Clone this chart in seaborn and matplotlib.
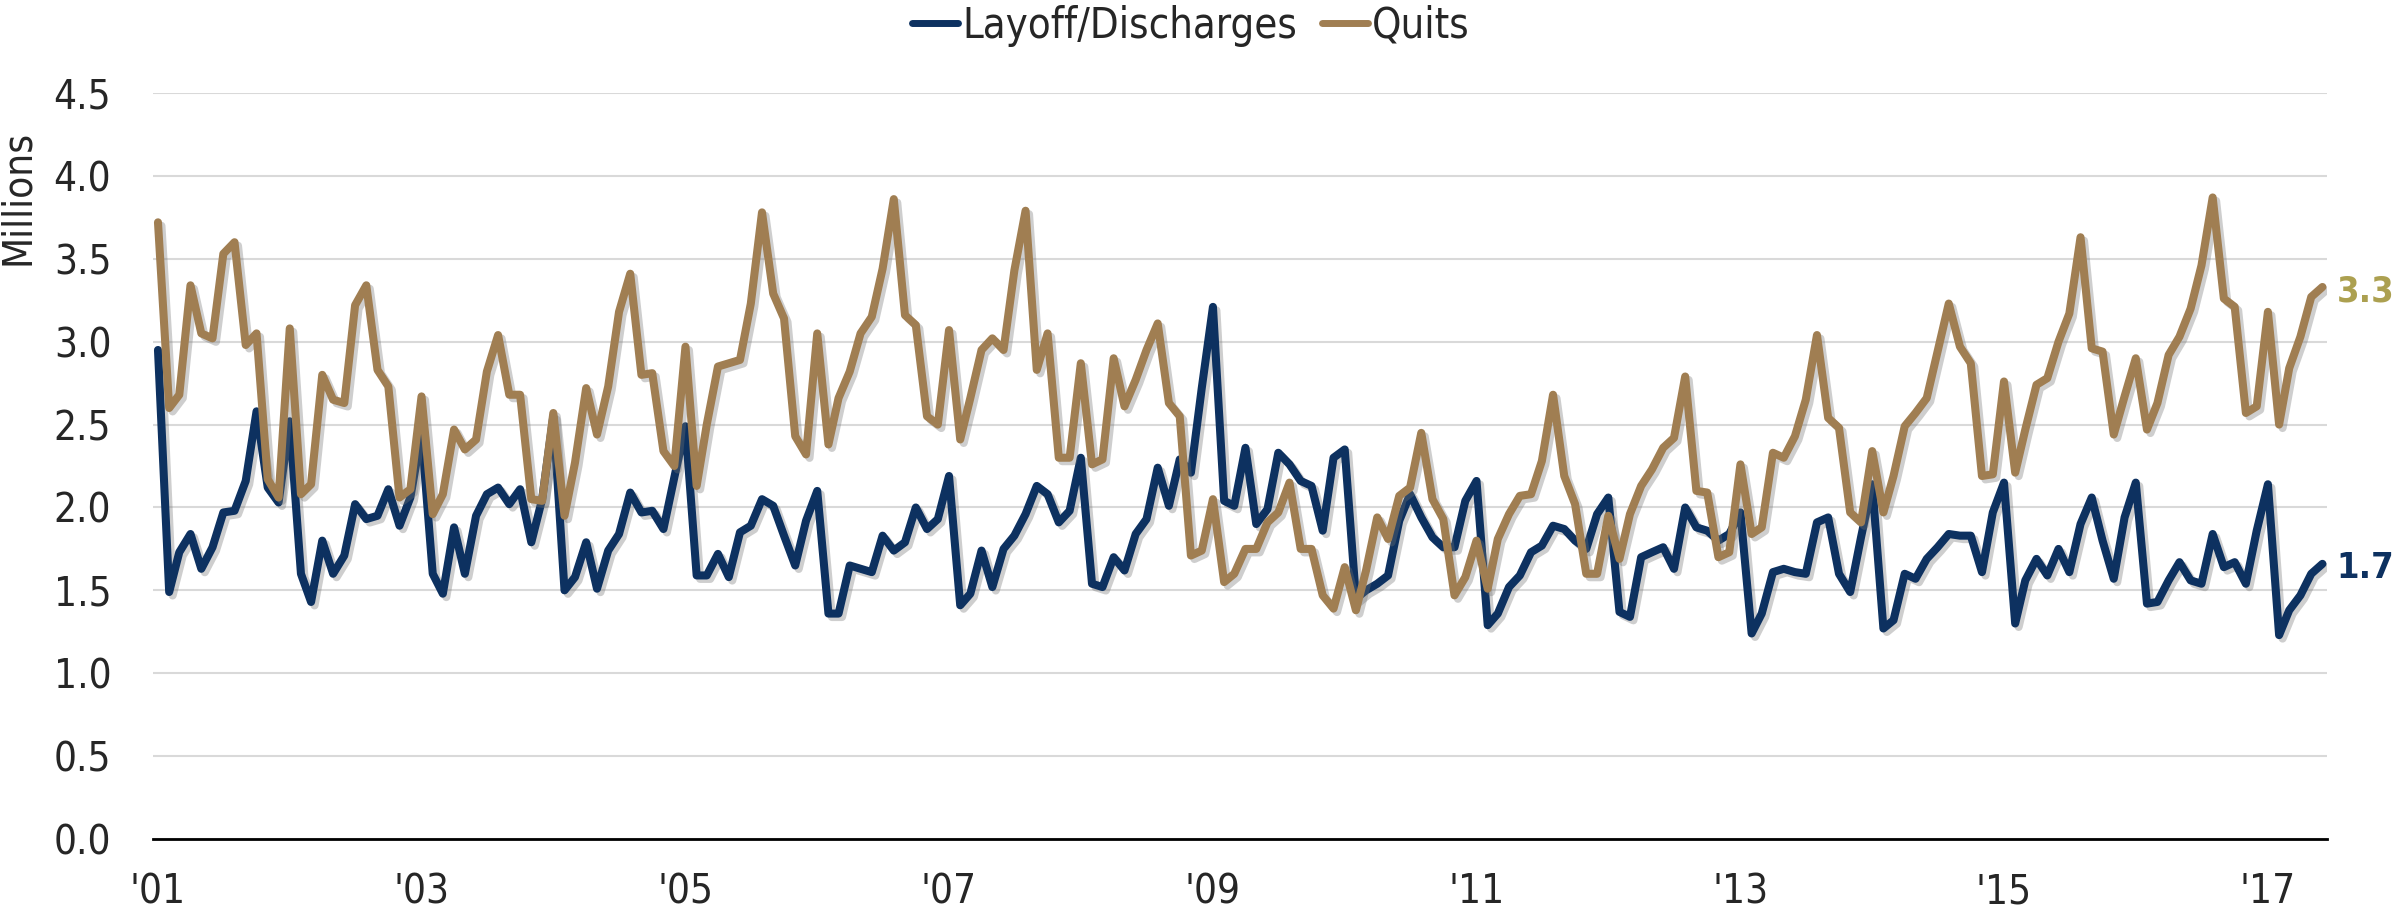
import pandas as pd
import seaborn as sns
import matplotlib.pyplot as plt
import matplotlib.patheffects as pe
from matplotlib import font_manager
from matplotlib.lines import Line2D

# monthly series, Jan 2001 - Jun 2017 (millions)
layoffs = [
    2.95, 1.49, 1.73, 1.84, 1.63, 1.76, 1.97, 1.98, 2.16, 2.58, 2.12, 2.03,
    2.52, 1.60, 1.43, 1.80, 1.60, 1.71, 2.02, 1.93, 1.95, 2.11, 1.89, 2.06,
    2.45, 1.60, 1.48, 1.88, 1.60, 1.95, 2.08, 2.12, 2.02, 2.11, 1.79, 2.05,
    2.55, 1.50, 1.58, 1.79, 1.51, 1.74, 1.84, 2.09, 1.97, 1.98, 1.87, 2.18,
    2.49, 1.59, 1.59, 1.72, 1.58, 1.85, 1.89, 2.05, 2.01, 1.83, 1.65, 1.92,
    2.10, 1.36, 1.36, 1.65, 1.63, 1.61, 1.83, 1.74, 1.79, 2.00, 1.87, 1.93,
    2.19, 1.41, 1.48, 1.74, 1.52, 1.75, 1.83, 1.96, 2.13, 2.08, 1.91, 1.98,
    2.30, 1.54, 1.52, 1.70, 1.62, 1.84, 1.93, 2.24, 2.01, 2.29, 2.21, 2.72,
    3.21, 2.04, 2.01, 2.36, 1.90, 1.99, 2.33, 2.26, 2.16, 2.13, 1.86, 2.30,
    2.35, 1.45, 1.50, 1.54, 1.59, 1.92, 2.08, 1.94, 1.82, 1.76, 1.76, 2.04,
    2.16, 1.29, 1.36, 1.52, 1.59, 1.73, 1.77, 1.89, 1.87, 1.80, 1.75, 1.96,
    2.06, 1.37, 1.34, 1.70, 1.73, 1.76, 1.63, 2.00, 1.88, 1.86, 1.80, 1.84,
    1.97, 1.24, 1.36, 1.61, 1.63, 1.61, 1.60, 1.91, 1.94, 1.60, 1.49, 1.82,
    2.14, 1.27, 1.32, 1.60, 1.57, 1.69, 1.76, 1.84, 1.83, 1.83, 1.61, 1.97,
    2.15, 1.30, 1.56, 1.69, 1.59, 1.75, 1.61, 1.90, 2.06, 1.80, 1.57, 1.94,
    2.15, 1.42, 1.43, 1.56, 1.67, 1.56, 1.54, 1.84, 1.64, 1.67, 1.54, 1.86,
    2.14, 1.23, 1.38, 1.47, 1.60, 1.66,
]
quits = [
    3.72, 2.60, 2.68, 3.34, 3.05, 3.02, 3.53, 3.60, 2.98, 3.05, 2.17, 2.06,
    3.08, 2.08, 2.14, 2.80, 2.65, 2.63, 3.22, 3.34, 2.83, 2.73, 2.06, 2.11,
    2.67, 1.96, 2.08, 2.47, 2.35, 2.41, 2.82, 3.04, 2.68, 2.68, 2.05, 2.04,
    2.57, 1.95, 2.27, 2.72, 2.44, 2.73, 3.18, 3.41, 2.80, 2.81, 2.34, 2.25,
    2.97, 2.13, 2.50, 2.85, 2.87, 2.89, 3.23, 3.78, 3.29, 3.14, 2.43, 2.32,
    3.05, 2.38, 2.66, 2.82, 3.05, 3.15, 3.44, 3.86, 3.16, 3.10, 2.55, 2.50,
    3.07, 2.41, 2.66, 2.95, 3.02, 2.95, 3.43, 3.79, 2.83, 3.05, 2.30, 2.30,
    2.87, 2.26, 2.29, 2.90, 2.61, 2.77, 2.95, 3.11, 2.63, 2.55, 1.71, 1.74,
    2.05, 1.55, 1.60, 1.75, 1.75, 1.91, 1.97, 2.15, 1.75, 1.75, 1.47, 1.39,
    1.64, 1.38, 1.62, 1.94, 1.81, 2.07, 2.12, 2.45, 2.05, 1.93, 1.47, 1.58,
    1.80, 1.51, 1.81, 1.96, 2.07, 2.08, 2.28, 2.68, 2.19, 2.02, 1.60, 1.60,
    1.95, 1.69, 1.96, 2.13, 2.23, 2.36, 2.42, 2.79, 2.10, 2.09, 1.70, 1.73,
    2.26, 1.84, 1.88, 2.33, 2.30, 2.43, 2.65, 3.04, 2.54, 2.48, 1.97, 1.91,
    2.34, 1.97, 2.19, 2.49, 2.57, 2.66, 2.94, 3.23, 2.97, 2.87, 2.19, 2.20,
    2.76, 2.21, 2.47, 2.74, 2.78, 3.00, 3.17, 3.63, 2.96, 2.94, 2.44, 2.67,
    2.90, 2.47, 2.63, 2.92, 3.03, 3.20, 3.46, 3.87, 3.26, 3.21, 2.57, 2.61,
    3.18, 2.50, 2.84, 3.03, 3.27, 3.33,
]
months = pd.date_range("2001-01-01", periods=len(quits), freq="MS")

tick_years = [2001, 2003, 2005, 2007, 2009, 2011, 2013, 2015, 2017]
tick_labels = ["'01", "'03", "'05", "'07", "'09", "'11", "'13", "'15", "'17"]
y_ticks = [0.0, 0.5, 1.0, 1.5, 2.0, 2.5, 3.0, 3.5, 4.0, 4.5]

NAVY = "#0D3160"
TAN = "#A07E52"
GOLD = "#ACA050"

df = pd.DataFrame({"month": months, "Layoff/Discharges": layoffs, "Quits": quits})
df = df.melt(id_vars="month", var_name="series", value_name="millions")

sns.set_style("white")

# the original uses Arial Narrow; take the closest condensed face available
entries = font_manager.fontManager.ttflist
names = {f.name for f in entries}
if "Liberation Sans Narrow" in names:
    family, stretch, fs = "Liberation Sans Narrow", "normal", 33
elif any(f.name == "DejaVu Sans" and "condensed" in str(f.stretch) for f in entries):
    family, stretch, fs = "DejaVu Sans", "condensed", 29
else:
    family, stretch, fs = "Liberation Sans", "normal", 29
plt.rcParams["font.family"] = [family, "DejaVu Sans"]
plt.rcParams["font.stretch"] = stretch

fig, ax = plt.subplots(figsize=(23.97, 9.19), dpi=100)
fig.subplots_adjust(left=0.0638, right=0.971, bottom=0.087, top=0.8988)

shadow = [pe.SimpleLineShadow(offset=(2.5, -2.5), shadow_color="0.45", alpha=0.35), pe.Normal()]
sns.lineplot(data=df, x="month", y="millions", hue="series",
             palette={"Layoff/Discharges": NAVY, "Quits": TAN},
             linewidth=5.8, legend=False, ax=ax, path_effects=shadow)

ax.set_xlim(months[0] - pd.Timedelta(days=14), months[-1] + pd.Timedelta(days=14))
ax.set_ylim(0, 4.5)
ax.set_yticks(y_ticks)
ax.set_yticklabels([f"{v:.1f}" for v in y_ticks], fontsize=fs)
ax.set_xticks([pd.Timestamp(f"{y}-01-01") for y in tick_years])
ax.set_xticklabels(tick_labels, fontsize=fs)
ax.tick_params(axis="x", length=0, pad=24)
ax.tick_params(axis="y", length=0, pad=30)
ax.set_xlabel("")
ax.set_ylabel("Millions", fontsize=fs)
ax.yaxis.set_label_coords(-0.053, 0.86)

ax.yaxis.grid(True, color="#D9D9D9", linewidth=1.5)
ax.xaxis.grid(False)
for side in ["left", "right", "top"]:
    ax.spines[side].set_visible(False)
ax.spines["bottom"].set_color("black")
ax.spines["bottom"].set_linewidth(2)
ax.spines["bottom"].set_zorder(5)

# end-of-series value labels
ax.annotate(f"{quits[-1]:.1f}", xy=(months[-1], quits[-1]), xytext=(10, -3),
            textcoords="offset points", va="center", ha="left",
            fontsize=fs - 3, fontweight="bold", color=GOLD)
ax.annotate(f"{layoffs[-1]:.1f}", xy=(months[-1], layoffs[-1]), xytext=(10, -3),
            textcoords="offset points", va="center", ha="left",
            fontsize=fs - 3, fontweight="bold", color=NAVY)

handles = [Line2D([0], [0], color=NAVY, lw=5), Line2D([0], [0], color=TAN, lw=5)]
fig.legend(handles, ["Layoff/Discharges", "Quits"], loc="center",
           bbox_to_anchor=(0.497, 0.972), ncol=2, frameon=False, fontsize=fs + 1,
           handlelength=1.1, handletextpad=0.1, columnspacing=0.6)

plt.savefig("out.png", dpi=100)
